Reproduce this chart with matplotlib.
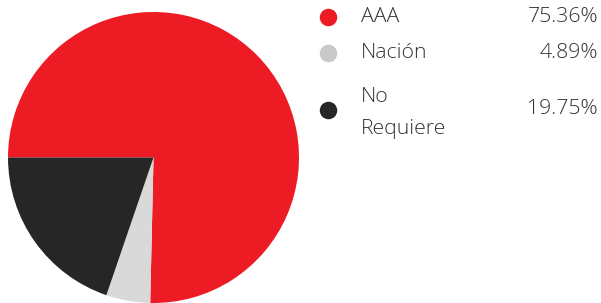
import matplotlib
matplotlib.use("Agg")
import matplotlib.pyplot as plt

categories = ["AAA", "Nación", "No\nRequiere"]
values = [75.36, 4.89, 19.75]
value_labels = ["75.36%", "4.89%", "19.75%"]
pie_colors = ["#ED1C24", "#D9D9D9", "#262626"]
legend_colors = ["#ED1C24", "#C8C8C8", "#262626"]

W, H = 601, 303
fig = plt.figure(figsize=(W / 100, H / 100), dpi=100)

# pie axes (pixel geometry)
cx, cy, r = 153.5, 157.5, 145.5
ax = fig.add_axes([(cx - r) / W, (H - cy - r) / H, 2 * r / W, 2 * r / H])
ax.pie(values, colors=pie_colors, startangle=180, counterclock=False,
       wedgeprops=dict(linewidth=0))
ax.set_aspect("auto")
ax.set_xlim(-1, 1)
ax.set_ylim(-1, 1)
ax.axis("off")

# legend overlay
lax = fig.add_axes([0, 0, 1, 1])
lax.set_xlim(0, W)
lax.set_ylim(H, 0)
lax.axis("off")
label_ys = [17, 53, 113]
marker_ys = [17, 53, 110]
value_ys = [17, 53, 109]
for cat, lab, col, ly, my, vy in zip(categories, value_labels, legend_colors,
                                     label_ys, marker_ys, value_ys):
    lax.scatter([328], [my], s=17 ** 2 * 0.55, color=col, linewidths=0)
    lax.text(361, ly, cat, ha="left", va="center", fontsize=15.3,
             family="Open Sans", weight="light", color="#333333",
             linespacing=1.78)
    lax.text(598, vy, lab, ha="right", va="center", fontsize=15.3,
             family="Open Sans", weight="light", color="#333333")

fig.savefig("out.png", dpi=100)
